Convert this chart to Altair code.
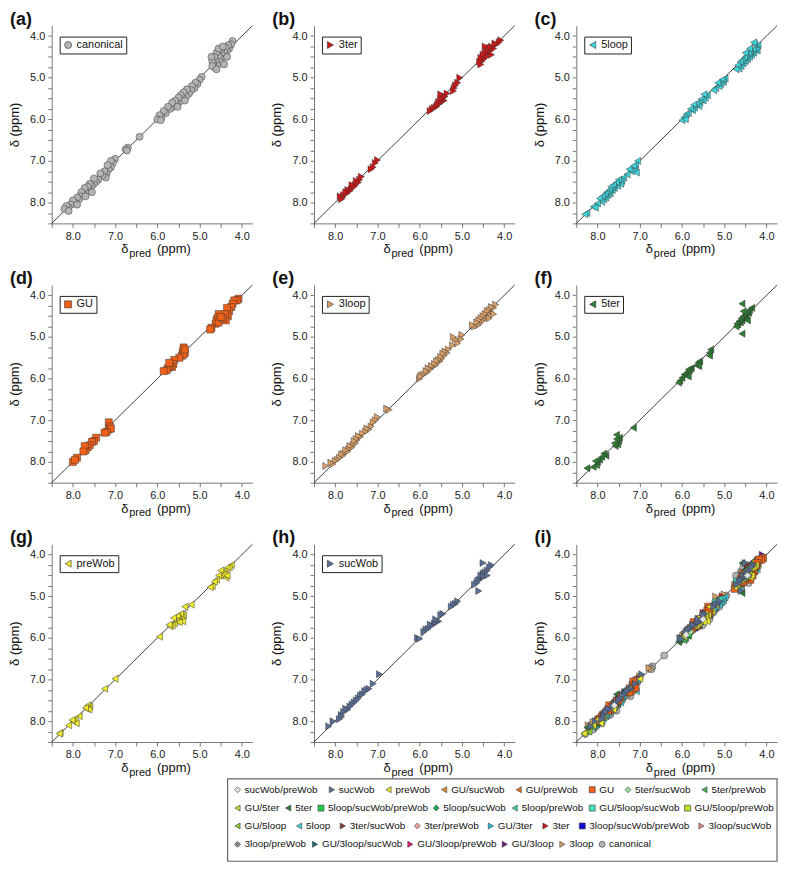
import altair as alt
import pandas as pd

FONT = "Liberation Sans"

# ---------------- categories (legend rows), colours, shapes ----------------
legend_rows = [
    ["sucWob/preWob", "sucWob", "preWob", "GU/sucWob", "GU/preWob", "GU", "5ter/sucWob", "5ter/preWob"],
    ["GU/5ter", "5ter", "5loop/sucWob/preWob", "5loop/sucWob", "5loop/preWob", "GU/5loop/sucWob", "GU/5loop/preWob"],
    ["GU/5loop", "5loop", "3ter/sucWob", "3ter/preWob", "GU/3ter", "3ter", "3loop/sucWob/preWob", "3loop/sucWob"],
    ["3loop/preWob", "GU/3loop/sucWob", "GU/3loop/preWob", "GU/3loop", "3loop", "canonical"],
]
COL = {
    "sucWob/preWob": "#e4e4e4", "sucWob": "#5b6f95", "preWob": "#f0ec2a", "GU/sucWob": "#e0902a",
    "GU/preWob": "#e8742a", "GU": "#f06018", "5ter/sucWob": "#9be39b", "5ter/preWob": "#3cb84a",
    "GU/5ter": "#d7d83a", "5ter": "#2e7d32", "5loop/sucWob/preWob": "#22cc44", "5loop/sucWob": "#1faa55",
    "5loop/preWob": "#3cd0b4", "GU/5loop/sucWob": "#40e0c0", "GU/5loop/preWob": "#c0e020",
    "GU/5loop": "#9acd32", "5loop": "#40d8e0", "3ter/sucWob": "#8b3a3a", "3ter/preWob": "#e8a0a0",
    "GU/3ter": "#20c0e0", "3ter": "#cc1818", "3loop/sucWob/preWob": "#1010d0", "3loop/sucWob": "#e08c8c",
    "3loop/preWob": "#8a8a8a", "GU/3loop/sucWob": "#1a6e78", "GU/3loop/preWob": "#e0207a",
    "GU/3loop": "#6a1a80", "3loop": "#d8a068", "canonical": "#b4b4b4",
}
SHP = {
    "sucWob/preWob": "diamond", "sucWob": "triangle-right", "preWob": "triangle-left",
    "GU/sucWob": "triangle-left", "GU/preWob": "triangle-left", "GU": "square", "5ter/sucWob": "diamond",
    "5ter/preWob": "triangle-left", "GU/5ter": "triangle-left", "5ter": "triangle-left",
    "5loop/sucWob/preWob": "square", "5loop/sucWob": "diamond", "5loop/preWob": "triangle-left",
    "GU/5loop/sucWob": "square", "GU/5loop/preWob": "square", "GU/5loop": "triangle-left",
    "5loop": "triangle-left", "3ter/sucWob": "triangle-right", "3ter/preWob": "diamond",
    "GU/3ter": "triangle-right", "3ter": "triangle-right", "3loop/sucWob/preWob": "square",
    "3loop/sucWob": "triangle-right", "3loop/preWob": "diamond", "GU/3loop/sucWob": "triangle-right",
    "GU/3loop/preWob": "triangle-right", "GU/3loop": "triangle-right", "3loop": "triangle-right",
    "canonical": "circle",
}

# ---------------- data: (predicted, observed) chemical shifts ----------------
canonical_pts = [
    (4.22, 4.12), (4.25, 4.2), (4.3, 4.3), (4.32, 4.22), (4.35, 4.35), (4.38, 4.28), (4.4, 4.45), (4.42, 4.38),
    (4.45, 4.5), (4.48, 4.4), (4.5, 4.55), (4.5, 4.32), (4.52, 4.62), (4.55, 4.48), (4.58, 4.7), (4.6, 4.4),
    (4.62, 4.58), (4.65, 4.75), (4.65, 4.5), (4.68, 4.65), (4.7, 4.6), (4.7, 4.72), (4.42, 4.68), (4.55, 4.3),
    (4.35, 4.5), (4.6, 4.8), (4.72, 4.5), (4.45, 4.25),
    (4.95, 4.98), (5.0, 5.05), (5.05, 5.15), (5.1, 5.12), (5.12, 5.25), (5.18, 5.2), (5.2, 5.3), (5.25, 5.38),
    (5.3, 5.28), (5.32, 5.45), (5.38, 5.35), (5.4, 5.5), (5.45, 5.42), (5.48, 5.58), (5.5, 5.48), (5.55, 5.62),
    (5.58, 5.55), (5.62, 5.7), (5.65, 5.6), (5.7, 5.75), (5.75, 5.7), (5.8, 5.85), (5.85, 5.8), (5.9, 5.95),
    (5.95, 5.9), (6.0, 6.0), (5.92, 6.02), (5.52, 5.7), (5.35, 5.55),
    (6.42, 6.42), (6.7, 6.68), (6.75, 6.72), (6.72, 6.75),
    (7.0, 6.95), (7.05, 7.05), (7.1, 7.0), (7.1, 7.15), (7.15, 7.2), (7.18, 7.1), (7.2, 7.3), (7.22, 7.4),
    (7.25, 7.25), (7.3, 7.35), (7.35, 7.3), (7.4, 7.45), (7.45, 7.5), (7.5, 7.55), (7.5, 7.42), (7.55, 7.6),
    (7.6, 7.55), (7.62, 7.7), (7.65, 7.62), (7.7, 7.75), (7.72, 7.65), (7.75, 7.8), (7.8, 7.75), (7.82, 7.85),
    (7.85, 7.92), (7.9, 7.88), (7.95, 8.0), (8.0, 7.95), (8.05, 8.05), (8.1, 8.12), (8.15, 8.08), (8.2, 8.15),
    (8.1, 8.2), (7.7, 7.85), (7.55, 7.75), (7.9, 8.05),
]
ter3_pts = [
    (4.08, 4.1), (4.12, 4.15), (4.18, 4.2), (4.22, 4.18), (4.25, 4.3), (4.3, 4.25), (4.32, 4.35), (4.35, 4.28),
    (4.38, 4.42), (4.4, 4.35), (4.42, 4.5), (4.45, 4.4), (4.48, 4.55), (4.5, 4.45), (4.52, 4.6), (4.55, 4.52),
    (4.55, 4.68), (4.58, 4.62), (4.3, 4.45), (4.45, 4.25),
    (5.05, 5.0), (5.1, 5.12), (5.15, 5.18), (5.18, 5.25), (5.2, 5.32),
    (5.35, 5.38), (5.4, 5.45), (5.42, 5.55), (5.45, 5.48), (5.48, 5.58), (5.5, 5.52), (5.52, 5.62), (5.55, 5.58),
    (5.58, 5.65), (5.6, 5.7), (5.65, 5.72), (5.7, 5.75), (5.75, 5.8), (5.5, 5.4),
    (7.0, 6.98), (7.05, 7.05), (7.1, 7.15), (7.15, 7.2),
    (7.38, 7.38), (7.42, 7.45), (7.45, 7.52), (7.5, 7.48), (7.52, 7.58), (7.55, 7.62), (7.6, 7.58), (7.62, 7.68),
    (7.65, 7.72), (7.7, 7.7), (7.72, 7.78), (7.75, 7.75), (7.8, 7.82), (7.82, 7.88), (7.85, 7.92), (7.88, 7.85),
]
loop5_pts = [
    (4.2, 4.22), (4.22, 4.35), (4.25, 4.3), (4.28, 4.2), (4.3, 4.4), (4.32, 4.32), (4.35, 4.45), (4.38, 4.38),
    (4.4, 4.5), (4.42, 4.42), (4.45, 4.55), (4.48, 4.48), (4.5, 4.6), (4.52, 4.52), (4.55, 4.65), (4.58, 4.58),
    (4.6, 4.72), (4.62, 4.62), (4.65, 4.78), (4.68, 4.7), (4.72, 4.8), (4.4, 4.3), (4.5, 4.4), (4.3, 4.15),
    (4.98, 5.02), (5.02, 5.1), (5.05, 5.05), (5.08, 5.15), (5.12, 5.2), (5.15, 5.12), (5.2, 5.25), (5.25, 5.3),
    (5.4, 5.42), (5.45, 5.48), (5.48, 5.4), (5.5, 5.55), (5.55, 5.52), (5.58, 5.6), (5.6, 5.68), (5.65, 5.62),
    (5.7, 5.72), (5.72, 5.65), (5.75, 5.78), (5.8, 5.75), (5.85, 5.85), (5.9, 5.88), (5.95, 5.95), (6.0, 6.02),
    (5.92, 6.0),
    (7.05, 7.0), (7.1, 7.1), (7.12, 7.22), (7.15, 7.12), (7.2, 7.25), (7.25, 7.2), (7.3, 7.32), (7.08, 7.28),
    (7.38, 7.4), (7.42, 7.48), (7.45, 7.55), (7.5, 7.45), (7.52, 7.6), (7.55, 7.52), (7.6, 7.65), (7.62, 7.58),
    (7.65, 7.7), (7.68, 7.62), (7.7, 7.78), (7.72, 7.7), (7.75, 7.82), (7.78, 7.75), (7.8, 7.88), (7.82, 7.8),
    (7.85, 7.92), (7.88, 7.85), (7.9, 7.98), (7.95, 7.9), (8.0, 8.02), (8.1, 8.1), (8.05, 8.12), (8.25, 8.25),
    (8.3, 8.28),
]
gu_pts = [
    (4.08, 4.08), (4.12, 4.12), (4.18, 4.12), (4.22, 4.2), (4.25, 4.28), (4.3, 4.38), (4.35, 4.3), (4.33, 4.5),
    (4.38, 4.6), (4.4, 4.45), (4.55, 4.45), (4.58, 4.55), (4.6, 4.6), (4.62, 4.68), (4.55, 4.65), (4.72, 4.78),
    (4.75, 4.82), (4.45, 4.55), (4.5, 4.52),
    (5.38, 5.25), (5.4, 5.35), (5.35, 5.38), (5.42, 5.45), (5.38, 5.42), (5.48, 5.5), (5.35, 5.3),
    (5.6, 5.55), (5.62, 5.65), (5.65, 5.72), (5.7, 5.7), (5.75, 5.75), (5.78, 5.8), (5.85, 5.82), (5.72, 5.62),
    (7.15, 7.05), (7.12, 7.15), (7.15, 7.22), (7.1, 7.2), (7.2, 7.28), (7.25, 7.3),
    (7.45, 7.42), (7.5, 7.5), (7.55, 7.52), (7.6, 7.6), (7.65, 7.65), (7.7, 7.72), (7.72, 7.62), (7.75, 7.75),
    (7.9, 7.9), (8.0, 8.0), (7.95, 7.95),
]
loop3_pts = [
    (4.2, 4.22), (4.25, 4.3), (4.3, 4.28), (4.32, 4.4), (4.35, 4.35), (4.38, 4.45), (4.4, 4.38), (4.42, 4.52),
    (4.45, 4.45), (4.48, 4.58), (4.5, 4.5), (4.52, 4.62), (4.55, 4.55), (4.58, 4.68), (4.6, 4.6), (4.62, 4.72),
    (4.65, 4.65), (4.7, 4.75), (4.75, 4.72), (4.35, 4.55), (4.25, 4.45),
    (5.0, 4.95), (5.02, 5.05), (5.1, 5.15), (5.15, 5.05), (5.2, 5.0), (5.22, 5.2),
    (5.32, 5.3), (5.35, 5.38), (5.4, 5.35), (5.42, 5.45), (5.45, 5.4), (5.48, 5.52), (5.5, 5.48), (5.52, 5.58),
    (5.55, 5.55), (5.58, 5.62), (5.6, 5.58), (5.62, 5.68), (5.65, 5.65), (5.7, 5.72), (5.72, 5.7), (5.75, 5.78),
    (5.8, 5.75), (5.82, 5.85), (5.85, 5.82), (5.9, 5.9), (5.95, 5.92), (6.0, 6.0), (5.98, 5.95),
    (6.72, 6.75), (6.78, 6.72),
    (7.0, 6.92), (7.05, 7.0), (7.1, 7.05), (7.15, 7.15), (7.2, 7.22), (7.25, 7.2), (7.28, 7.28),
    (7.35, 7.32), (7.4, 7.4), (7.45, 7.38), (7.48, 7.48), (7.5, 7.45), (7.52, 7.55), (7.55, 7.5), (7.58, 7.6),
    (7.6, 7.65), (7.65, 7.62), (7.68, 7.7), (7.7, 7.75), (7.75, 7.72), (7.8, 7.8), (7.82, 7.85), (7.85, 7.82),
    (7.9, 7.9), (7.95, 7.95), (8.0, 7.98), (8.05, 8.05), (8.1, 8.02), (8.22, 8.1),
]
ter5_pts = [
    (4.35, 4.3), (4.4, 4.35), (4.42, 4.42), (4.45, 4.4), (4.48, 4.48), (4.5, 4.45), (4.52, 4.55), (4.55, 4.5),
    (4.58, 4.6), (4.6, 4.55), (4.62, 4.65), (4.65, 4.62), (4.68, 4.7), (4.7, 4.68), (4.72, 4.75), (4.58, 4.2),
    (4.58, 4.92), (4.45, 4.6), (4.55, 4.38),
    (5.32, 5.3), (5.35, 5.38), (5.35, 5.45),
    (5.58, 5.58), (5.62, 5.62), (5.65, 5.68), (5.6, 5.7),
    (5.78, 5.75), (5.82, 5.8), (5.85, 5.78), (5.88, 5.85), (5.9, 5.92), (5.95, 5.9), (6.0, 5.98), (6.05, 6.05),
    (6.08, 6.1), (5.85, 5.95),
    (7.15, 7.18),
    (7.48, 7.42), (7.5, 7.5), (7.52, 7.58), (7.55, 7.45), (7.58, 7.62), (7.6, 7.55), (7.55, 7.35),
    (7.8, 7.85), (7.85, 7.8), (7.9, 7.88), (7.95, 7.95), (8.0, 8.0), (8.02, 8.08), (8.05, 7.98), (8.1, 8.12),
    (8.25, 8.15),
]
prewob_pts = [
    (4.25, 4.25), (4.3, 4.3), (4.35, 4.32), (4.4, 4.4), (4.45, 4.45), (4.5, 4.5), (4.5, 4.38), (4.55, 4.5),
    (4.6, 4.6), (4.38, 4.55), (4.42, 4.48), (4.7, 4.75), (4.75, 4.78), (4.65, 4.65), (4.35, 4.5),
    (5.2, 5.2), (5.35, 5.25), (5.38, 5.45), (5.42, 5.5), (5.45, 5.42), (5.5, 5.55), (5.52, 5.48), (5.55, 5.6),
    (5.6, 5.65), (5.62, 5.52), (5.65, 5.7), (5.7, 5.72), (5.72, 5.68), (5.4, 5.6), (5.48, 5.62),
    (5.95, 5.97), (7.0, 6.98), (7.25, 7.22),
    (7.6, 7.65), (7.65, 7.62), (7.68, 7.7), (7.62, 7.72), (7.7, 7.68),
    (7.85, 7.88), (7.95, 7.95), (8.0, 8.0), (7.92, 8.05), (8.1, 8.1), (8.02, 7.97), (8.3, 8.28), (8.32, 8.3),
]
sucwob_pts = [
    (4.3, 4.25), (4.35, 4.3), (4.4, 4.38), (4.45, 4.42), (4.5, 4.45), (4.52, 4.55), (4.55, 4.5), (4.58, 4.6),
    (4.62, 4.62), (4.65, 4.68), (4.7, 4.72), (4.5, 4.2), (4.6, 4.87), (4.48, 4.52), (4.4, 4.5),
    (5.1, 5.12), (5.15, 5.18), (5.2, 5.2), (5.25, 5.25),
    (5.45, 5.42), (5.5, 5.45), (5.55, 5.6), (5.6, 5.62), (5.65, 5.65), (5.7, 5.7), (5.75, 5.68), (5.8, 5.78),
    (5.85, 5.8), (5.9, 5.85), (5.62, 5.55), (6.05, 6.0), (6.0, 6.02),
    (6.95, 6.87),
    (7.1, 7.1), (7.2, 7.22), (7.25, 7.25), (7.3, 7.28), (7.35, 7.35), (7.4, 7.38), (7.45, 7.45), (7.5, 7.5),
    (7.55, 7.55), (7.6, 7.6), (7.65, 7.65), (7.7, 7.72), (7.75, 7.7), (7.8, 7.78), (7.85, 7.85), (7.85, 7.9),
    (7.9, 7.95), (8.05, 8.0), (8.15, 8.12),
]
# categories that appear only in the combined panel (i)
extra_pts = {
    "sucWob/preWob": [(4.45, 4.5), (5.5, 5.55), (7.6, 7.62), (5.9, 5.92)],
    "GU/sucWob": [(4.4, 4.45), (5.55, 5.5), (7.3, 7.35)],
    "GU/preWob": [(4.35, 4.3), (5.45, 5.5), (7.55, 7.5)],
    "5ter/sucWob": [(4.55, 4.6), (5.8, 5.85), (7.9, 7.95)],
    "5ter/preWob": [(4.5, 4.55), (5.95, 6.05), (8.1, 8.15)],
    "GU/5ter": [(4.6, 4.7), (5.65, 5.7), (7.7, 7.75)],
    "5loop/sucWob/preWob": [(4.4, 4.35), (5.85, 5.9)],
    "5loop/sucWob": [(4.48, 4.42), (5.75, 5.8), (7.45, 7.4)],
    "5loop/preWob": [(4.3, 4.35), (5.1, 5.05), (7.8, 7.85)],
    "GU/5loop/sucWob": [(4.7, 4.65), (5.2, 5.15), (7.2, 7.25)],
    "GU/5loop/preWob": [(4.25, 4.2), (5.3, 5.35), (7.65, 7.7)],
    "GU/5loop": [(4.2, 4.25), (5.4, 5.45), (8.2, 8.25)],
    "3ter/sucWob": [(4.35, 4.4), (5.6, 5.65), (7.4, 7.45)],
    "3ter/preWob": [(4.55, 4.5), (5.5, 5.45), (7.75, 7.7)],
    "GU/3ter": [(4.25, 4.35), (5.35, 5.4), (7.5, 7.55)],
    "3loop/sucWob/preWob": [(4.45, 4.4), (5.7, 5.75)],
    "3loop/sucWob": [(4.6, 4.55), (5.25, 5.3), (7.1, 7.15)],
    "3loop/preWob": [(4.5, 4.6), (5.85, 5.8), (8.3, 8.32)],
    "GU/3loop/sucWob": [(4.3, 4.25), (5.6, 5.55), (7.35, 7.3)],
    "GU/3loop/preWob": [(4.4, 4.5), (5.15, 5.2), (7.6, 7.65)],
    "GU/3loop": [(4.1, 4.0), (4.2, 4.15), (5.45, 5.4)],
}
main_pts = {
    "canonical": canonical_pts, "3ter": ter3_pts, "5loop": loop5_pts, "GU": gu_pts,
    "3loop": loop3_pts, "5ter": ter5_pts, "preWob": prewob_pts, "sucWob": sucwob_pts,
}
all_pts = dict(extra_pts)
all_pts.update(main_pts)

panel_defs = [
    ("(a)", "canonical"), ("(b)", "3ter"), ("(c)", "5loop"),
    ("(d)", "GU"), ("(e)", "3loop"), ("(f)", "5ter"),
    ("(g)", "preWob"), ("(h)", "sucWob"),
]

# axis ticks / labels
x_ticks = [8.5, 8.0, 7.5, 7.0, 6.5, 6.0, 5.5, 5.0, 4.5, 4.0]
y_ticks = [4.0, 4.25, 4.5, 4.75, 5.0, 5.25, 5.5, 5.75, 6.0, 6.25, 6.5, 6.75, 7.0,
           7.25, 7.5, 7.75, 8.0, 8.25, 8.5]
axis_domain = [3.75, 8.5]
diag_df = pd.DataFrame({"pred": [8.5, 3.75], "obs": [8.5, 3.75]})

W, H = 202, 199
label_expr = "datum.value % 1 === 0 ? format(datum.value, '.1f') : ''"

xs = alt.Scale(domain=axis_domain, reverse=True, nice=False, zero=False)
ys = alt.Scale(domain=axis_domain, reverse=True, nice=False, zero=False)
xaxis = alt.Axis(values=x_ticks, labelExpr=label_expr, title=None, labelOverlap=False,
                 labelFlush=False, labelPadding=3)
yaxis = alt.Axis(values=y_ticks, labelExpr=label_expr, title="δ (ppm)", labelOverlap=False,
                 labelFlush=False, titlePadding=8, labelPadding=3)


def to_df(cats):
    frames = []
    for c in cats:
        pts = all_pts[c]
        frames.append(pd.DataFrame({"pred": [p[0] for p in pts], "obs": [p[1] for p in pts], "cat": c}))
    return pd.concat(frames, ignore_index=True)


def one(text):
    return pd.DataFrame({"t": [text]})


def points(cats, legend, draw_order=None):
    df = to_df(draw_order if draw_order else cats)
    return alt.Chart(df).mark_point(filled=True, opacity=1, size=50, stroke="#333",
                                    strokeWidth=0.6, strokeOpacity=0.8).encode(
        x=alt.X("pred:Q", scale=xs, axis=xaxis),
        y=alt.Y("obs:Q", scale=ys, axis=yaxis),
        color=alt.Color("cat:N", scale=alt.Scale(domain=cats, range=[COL[c] for c in cats]), legend=legend),
        shape=alt.Shape("cat:N", scale=alt.Scale(domain=cats, range=[SHP[c] for c in cats]), legend=legend),
    )


def decorations(letter):
    diag = alt.Chart(diag_df).mark_line(color="#111", strokeWidth=0.8).encode(
        x=alt.X("pred:Q", scale=xs, axis=xaxis),
        y=alt.Y("obs:Q", scale=ys, axis=yaxis),
    )
    lab = alt.Chart(one(letter)).mark_text(font=FONT, fontSize=18, fontWeight="bold", align="left",
                                           baseline="alphabetic", color="#111").encode(
        x=alt.value(-42), y=alt.value(-1), text="t:N")
    t1 = alt.Chart(one("δ")).mark_text(font=FONT, fontSize=13, align="left", baseline="alphabetic",
                                       color="#111").encode(x=alt.value(70), y=alt.value(229), text="t:N")
    t2 = alt.Chart(one("pred")).mark_text(font=FONT, fontSize=11, align="left", baseline="alphabetic",
                                          color="#111").encode(x=alt.value(78), y=alt.value(233), text="t:N")
    t3 = alt.Chart(one("(ppm)")).mark_text(font=FONT, fontSize=13, align="left", baseline="alphabetic",
                                           color="#111").encode(x=alt.value(106), y=alt.value(229), text="t:N")
    return diag, [lab, t1, t2, t3]


def small_legend():
    return alt.Legend(title=None, orient="none", legendX=8, legendY=11, padding=3,
                      strokeColor="#222", fillColor="white", labelFont=FONT, labelFontSize=11,
                      labelColor="#111", symbolSize=50, symbolStrokeColor="#333",
                      symbolStrokeWidth=0.6, labelOffset=3)


panels = []
for letter, cat in panel_defs:
    diag, texts = decorations(letter)
    panels.append(alt.layer(diag, points([cat], small_legend()), *texts).properties(width=W, height=H))

# combined panel (i): one point layer (and one legend row) per legend row, canonical drawn first
LEG_X = -346
BOX_TOP = 236
row_y = [BOX_TOP + 6, BOX_TOP + 24.5, BOX_TOP + 42.5, BOX_TOP + 61]
row_pad = [9, 3, 7, 3]
draw_orders = [
    ["GU/preWob", "GU/sucWob", "GU", "5ter/preWob", "5ter/sucWob", "preWob", "sucWob", "sucWob/preWob"],
    ["GU/5ter", "5ter", "GU/5loop/preWob", "GU/5loop/sucWob", "5loop/preWob", "5loop/sucWob",
     "5loop/sucWob/preWob"],
    ["3loop/sucWob", "3loop/sucWob/preWob", "3ter", "GU/3ter", "3ter/preWob", "3ter/sucWob", "5loop", "GU/5loop"],
    ["canonical", "3loop", "GU/3loop", "GU/3loop/preWob", "GU/3loop/sucWob", "3loop/preWob"],
]
layers_i = []
for r in [3, 2, 1, 0]:
    leg = alt.Legend(title=None, orient="none", legendX=LEG_X, legendY=row_y[r], direction="horizontal",
                     columns=len(legend_rows[r]), padding=0, labelFont=FONT, labelFontSize=10,
                     labelColor="#111", symbolSize=36, symbolStrokeColor="#333", symbolStrokeWidth=0.6,
                     columnPadding=row_pad[r], labelOffset=2, labelLimit=0)
    layers_i.append(points(legend_rows[r], leg, draw_orders[r]))

frame = alt.Chart(one("")).mark_rect(fill="white", stroke="#666", strokeWidth=1.2).encode(
    x=alt.value(-351), x2=alt.value(202), y=alt.value(BOX_TOP), y2=alt.value(BOX_TOP + 83))
diag_i, texts_i = decorations("(i)")
panel_i = (
    alt.layer(frame, diag_i, *layers_i, *texts_i)
    .resolve_scale(color="independent", shape="independent")
    .properties(width=W, height=H)
)
panels.append(panel_i)

chart = (
    alt.concat(*panels, columns=3, spacing=62, bounds="flush")
    .resolve_scale(color="independent", shape="independent")
    .properties(padding=0)
    .configure_view(stroke=None)
    .configure_axis(grid=False, domainColor="#777", tickColor="#777", tickSize=4,
                    labelFont=FONT, labelFontSize=11, labelColor="#222",
                    titleFont=FONT, titleFontSize=13, titleFontWeight="normal", titleColor="#111")
)

chart.save("out.html", embed_options={"renderer": "svg", "actions": False})
